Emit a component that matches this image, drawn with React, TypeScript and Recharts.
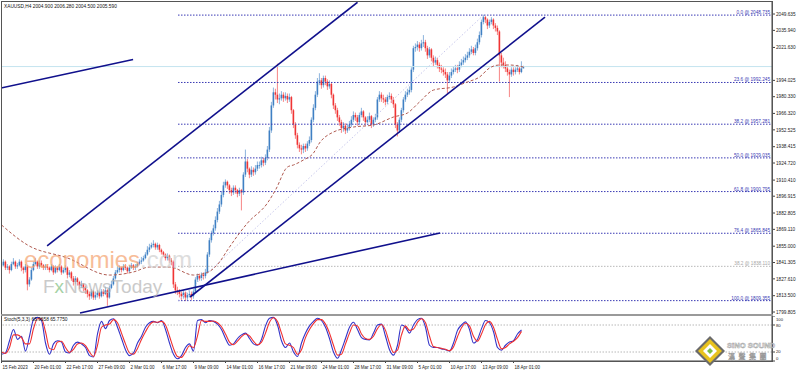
import React from 'react';
import { ComposedChart, Bar, Line, Scatter, XAxis, YAxis, ReferenceLine } from 'recharts';

const FONT = '"Liberation Sans", Arial, sans-serif';

// XAUUSD H4 candles, bar 0 = 15 Feb 2023
const firstOpen = 1838;
const closes = [
  1839, 1842, 1837, 1838, 1835, 1840, 1842, 1838, 1839, 1842,
  1837, 1835, 1838, 1823, 1827, 1835, 1840, 1842, 1838, 1841,
  1839, 1837, 1838, 1837, 1835, 1838, 1833, 1837, 1835, 1838,
  1833, 1835, 1837, 1831, 1833, 1828, 1825, 1828, 1825, 1822,
  1823, 1820, 1818, 1815, 1813, 1817, 1812, 1814, 1816, 1813,
  1817, 1815, 1818, 1812, 1820, 1823, 1828, 1833, 1835, 1837,
  1835, 1838, 1837, 1834, 1837, 1839, 1837, 1838, 1840, 1842,
  1843, 1845, 1848, 1852, 1854, 1856, 1857, 1854, 1856, 1852,
  1850, 1848, 1845, 1847, 1843, 1842, 1823, 1818, 1817, 1815,
  1813, 1816, 1812, 1814, 1815, 1813, 1817, 1827, 1830, 1828,
  1831, 1830, 1833, 1848, 1860, 1866, 1870, 1877, 1884, 1890,
  1898, 1906, 1909, 1906, 1902, 1900, 1904, 1902, 1899, 1902,
  1900, 1915, 1926, 1920, 1915, 1919, 1917, 1920, 1923, 1923,
  1927, 1925, 1929, 1936, 1952, 1973, 1984, 1982, 1978, 1979,
  1982, 1979, 1981, 1978, 1980, 1969, 1957, 1948, 1940, 1937,
  1936, 1939, 1937, 1941, 1944, 1961, 1971, 1982, 1993, 1994,
  1990, 1996, 1993, 1989, 1991, 1982, 1973, 1969, 1963, 1959,
  1954, 1956, 1952, 1954, 1957, 1961, 1965, 1963, 1959, 1965,
  1968, 1963, 1959, 1961, 1964, 1957, 1961, 1963, 1978, 1982,
  1979, 1978, 1976, 1980, 1981, 1978, 1974, 1957, 1952, 1961,
  1969, 1978, 1982, 1984, 1986, 2003, 2021, 2022, 2024, 2021,
  2025, 2026, 2021, 2015, 2020, 2013, 2009, 2011, 2007, 2004,
  2003, 2001, 1999, 1994, 1998, 2001, 2003, 2004, 2003, 2007,
  2009, 2011, 2013, 2015, 2018, 2020, 2017, 2021, 2026, 2032,
  2043, 2047, 2045, 2040, 2043, 2045, 2040, 2038, 2035, 2015,
  2009, 2007, 2004, 2001, 1999, 2003, 2001, 2003, 2004, 2001,
  2004, 2005.59,
];
const highs = [
  1841, 1844, 1843, 1840, 1839, 1842, 1845, 1843, 1841, 1844,
  1843, 1838, 1840, 1839, 1829, 1837, 1842, 1845, 1843, 1843,
  1843, 1840, 1840, 1840, 1838, 1840, 1839, 1839, 1838, 1840,
  1839, 1837, 1839, 1838, 1835, 1834, 1830, 1830, 1829, 1826,
  1826, 1824, 1822, 1819, 1817, 1819, 1818, 1817, 1818, 1817,
  1819, 1819, 1821, 1819, 1822, 1826, 1830, 1835, 1838, 1839,
  1838, 1840, 1840, 1838, 1839, 1841, 1840, 1840, 1842, 1844,
  1846, 1847, 1850, 1855, 1857, 1858, 1860, 1858, 1858, 1857,
  1853, 1851, 1849, 1849, 1848, 1845, 1843, 1825, 1821, 1819,
  1817, 1818, 1817, 1816, 1818, 1817, 1819, 1829, 1832, 1832,
  1833, 1833, 1836, 1850, 1862, 1868, 1873, 1880, 1887, 1893,
  1901, 1909, 1911, 1910, 1907, 1904, 1906, 1906, 1903, 1904,
  1903, 1917, 1936, 1928, 1921, 1922, 1921, 1923, 1926, 1926,
  1930, 1929, 1932, 1939, 1955, 1976, 1988, 1987, 2008, 1983,
  1985, 1984, 1984, 1983, 1983, 1981, 1970, 1959, 1950, 1942,
  1940, 1941, 1941, 1943, 1947, 1963, 1974, 1985, 1996, 2000,
  1996, 1998, 1998, 1995, 1994, 1992, 1983, 1975, 1971, 1965,
  1961, 1959, 1958, 1957, 1960, 1964, 1968, 1967, 1965, 1967,
  1971, 1969, 1964, 1964, 1967, 1965, 1963, 1966, 1980, 1985,
  1984, 1982, 1980, 1982, 1984, 1983, 1980, 1975, 1959, 1963,
  1971, 1980, 1985, 1987, 1989, 2005, 2023, 2025, 2027, 2026,
  2028, 2032, 2028, 2023, 2022, 2021, 2015, 2014, 2013, 2009,
  2007, 2005, 2004, 2001, 2001, 2004, 2006, 2007, 2007, 2010,
  2012, 2014, 2016, 2018, 2021, 2023, 2022, 2024, 2029, 2035,
  2045, 2049, 2048, 2046, 2045, 2047, 2046, 2042, 2040, 2036,
  2017, 2013, 2010, 2006, 2003, 2005, 2005, 2005, 2007, 2006,
  2010, 2006.28,
];
const lows = [
  1836, 1838, 1835, 1835, 1832, 1834, 1839, 1836, 1836, 1838,
  1834, 1832, 1833, 1818, 1821, 1826, 1834, 1839, 1836, 1836,
  1837, 1835, 1835, 1835, 1833, 1834, 1831, 1832, 1833, 1834,
  1831, 1832, 1833, 1828, 1829, 1826, 1822, 1823, 1822, 1819,
  1820, 1817, 1815, 1812, 1810, 1811, 1810, 1810, 1812, 1811,
  1812, 1813, 1814, 1805, 1811, 1819, 1822, 1827, 1832, 1833,
  1833, 1834, 1835, 1832, 1833, 1836, 1835, 1835, 1837, 1839,
  1840, 1842, 1844, 1847, 1850, 1853, 1854, 1852, 1852, 1850,
  1848, 1846, 1843, 1843, 1841, 1839, 1820, 1815, 1814, 1812,
  1810, 1811, 1809, 1810, 1812, 1810, 1811, 1816, 1825, 1826,
  1826, 1827, 1828, 1832, 1846, 1858, 1864, 1868, 1875, 1882,
  1888, 1896, 1904, 1903, 1899, 1897, 1898, 1899, 1896, 1897,
  1885, 1898, 1913, 1917, 1912, 1913, 1914, 1915, 1918, 1920,
  1921, 1922, 1923, 1927, 1934, 1950, 1971, 1978, 1975, 1974,
  1977, 1976, 1977, 1975, 1976, 1966, 1954, 1945, 1937, 1934,
  1932, 1933, 1934, 1935, 1939, 1942, 1959, 1969, 1980, 1990,
  1987, 1988, 1990, 1986, 1987, 1979, 1970, 1966, 1960, 1956,
  1950, 1951, 1949, 1950, 1952, 1955, 1959, 1960, 1956, 1957,
  1963, 1960, 1956, 1957, 1959, 1954, 1955, 1959, 1961, 1976,
  1976, 1975, 1973, 1974, 1978, 1975, 1971, 1954, 1947, 1950,
  1959, 1967, 1976, 1980, 1982, 1984, 2001, 2018, 2019, 2018,
  2019, 2022, 2018, 2012, 2013, 2010, 2006, 2007, 2004, 2001,
  2000, 1998, 1996, 1983, 1992, 1996, 1999, 2001, 2000, 2001,
  2005, 2007, 2009, 2011, 2013, 2016, 2015, 2015, 2019, 2024,
  2030, 2041, 2042, 2037, 2038, 2041, 2037, 2035, 2032, 1993,
  2005, 2004, 2001, 1998, 1980, 1997, 1998, 1999, 2001, 1999,
  2000, 2004.5,
];

// dashed moving average, read at a few bars
const maBars = [0, 13, 33, 54, 66, 74, 84, 96, 103, 109, 113, 123, 133, 137, 143, 146, 151, 156, 159, 166, 176, 186, 196, 203, 209, 216, 226, 233, 239, 244, 249, 254, 261];
const maValues = [1872.8, 1856.0, 1845.1, 1830.8, 1833.4, 1837.5, 1837.5, 1830.8, 1833.0, 1841.7, 1851.8, 1874.4, 1891.2, 1902.1, 1921.4, 1923.1, 1927.3, 1933.1, 1941.5, 1950.7, 1954.9, 1956.6, 1963.3, 1966.7, 1975.9, 1985.9, 1988.5, 1992.7, 1996.8, 2004.4, 2006.9, 2006.9, 2005.2];

// Stoch(5,3,3), one reading every 2 bars
const stochStep = 2;
const stochK = [
  15, 18, 45, 70, 48, 55, 22, 55, 92, 97,
  90, 40, 15, 38, 45, 42, 20, 18, 35, 42,
  38, 30, 12, 9, 60, 88, 72, 90, 94, 75,
  50, 25, 12, 18, 40, 55, 75, 85, 88, 85,
  90, 70, 40, 15, 5, 12, 30, 38, 22, 90,
  92, 85, 90, 88, 82, 70, 50, 35, 38, 50,
  58, 62, 50, 38, 35, 48, 78, 95, 97, 80,
  45, 30, 40, 20, 10, 40, 62, 78, 88, 95,
  90, 75, 50, 20, 6, 25, 50, 75, 86, 70,
  52, 48, 47, 62, 80, 82, 55, 25, 13, 35,
  80, 75, 62, 80, 92, 95, 75, 35, 30, 30,
  27, 25, 22, 40, 68, 80, 87, 70, 40, 48,
  72, 90, 85, 65, 30, 24, 35, 42, 45, 60,
  68.97,
];
const stochD = [
  20, 17, 30, 58, 58, 52, 38, 38, 72, 94,
  94, 65, 28, 25, 42, 44, 30, 19, 26, 38,
  40, 34, 20, 10, 35, 75, 80, 82, 92, 85,
  62, 38, 18, 15, 28, 48, 65, 80, 87, 86,
  88, 80, 55, 28, 10, 8, 20, 34, 30, 56,
  90, 88, 88, 89, 85, 76, 60, 42, 36, 44,
  54, 60, 56, 44, 36, 42, 62, 86, 96, 88,
  62, 38, 35, 30, 15, 25, 52, 70, 83, 92,
  92, 82, 62, 35, 13, 15, 38, 62, 80, 78,
  60, 50, 48, 55, 72, 81, 68, 40, 19, 24,
  58, 78, 68, 71, 86, 94, 85, 55, 32, 30,
  28, 26, 23, 31, 54, 74, 84, 78, 55, 44,
  60, 81, 88, 75, 48, 27, 30, 38, 44, 52,
  65.78,
];

// the 2007.935 tick sits under the black price box, so it is left out
const priceTicks = [2049.635, 2035.94, 2021.63, 1994.025, 1980.33, 1966.32, 1952.525, 1938.415, 1924.72, 1910.41, 1896.915, 1882.805, 1869.11, 1855.0, 1841.305, 1827.61, 1813.5, 1799.805];
const timeTickBars = [0, 16, 32, 48, 64, 80, 96, 112, 128, 144, 160, 176, 192, 208, 224, 240, 256];
const timeLabels = ['15 Feb 2023', '20 Feb 01:00', '22 Feb 17:00', '27 Feb 09:00', '2 Mar 01:00', '6 Mar 17:00', '9 Mar 09:00', '14 Mar 01:00', '16 Mar 17:00', '21 Mar 09:00', '24 Mar 01:00', '28 Mar 17:00', '31 Mar 09:00', '5 Apr 01:00', '10 Apr 17:00', '13 Apr 09:00', '18 Apr 01:00'];

const fibNames = ['0.0', '23.6', '38.2', '50.0', '61.8', '76.4', '100.0'];
const fibLevels = [2048.735, 1992.245, 1957.281, 1929.035, 1900.795, 1865.845, 1809.355];
const fibStartBar = 88.25;
const oldFibName = '38.2';
const oldFibLevel = 1838.11;
const fibDiagonal = [{ x: 88.25, y: 1809.355 }, { x: 241, y: 2048.735 }];

const trendLines = [
  [{ x: -0.25, y: 1987.6 }, { x: 65.8, y: 2011.5 }],
  [{ x: 22.8, y: 1855.2 }, { x: 178, y: 2059.5 }],
  [{ x: 94.25, y: 1812.4 }, { x: 271.75, y: 2047.1 }],
  [{ x: 39.25, y: 1799.0 }, { x: 219.25, y: 1866.1 }],
];
const lastPrice = 2005.59;

const X_DOMAIN: [number, number] = [-0.25, 385.25];
const Y_DOMAIN: [number, number] = [1798.15, 2059.72];

const UP = '#3f80c4';
const DOWN = '#f03434';
const FIB = '#3a3ab4';
const NAVY = '#10108c';

const candles = closes.map((c, i) => ({
  i,
  o: i === 0 ? firstOpen : closes[i - 1],
  c,
  h: highs[i],
  l: lows[i],
  range: [lows[i], highs[i]],
}));
const maRows = maBars.map((i, k) => ({ i, p: maValues[k] }));
const stochRows = stochK.map((k, j) => ({ i: j * stochStep, k, d: stochD[j] }));
const fibLabelRows = fibLevels
  .map((p, k) => ({ i: X_DOMAIN[1], p, text: `${fibNames[k]} @ ${p.toFixed(3)}`, color: FIB }))
  .concat([{ i: X_DOMAIN[1], p: oldFibLevel, text: `${oldFibName} @ ${oldFibLevel.toFixed(3)}`, color: '#a8a8a8' }]);
const priceBoxRows = [{ i: X_DOMAIN[1], p: lastPrice }];

function Candle(props: any) {
  const { x, y, width, height, payload } = props;
  const top = Math.min(y, y + height);
  const h = Math.abs(height);
  const cx = x + width / 2;
  const span = payload.h - payload.l || 1;
  const k = h / span;
  const bodyTop = top + (payload.h - Math.max(payload.o, payload.c)) * k;
  const bodyH = Math.max(Math.abs(payload.o - payload.c) * k, 0.8);
  const col = payload.c >= payload.o ? UP : DOWN;
  return (
    <g>
      <line x1={cx} x2={cx} y1={top} y2={top + h} stroke={col} strokeOpacity={0.6} strokeWidth={1} />
      <rect x={cx - 0.8} y={bodyTop} width={1.6} height={bodyH} fill={col} />
    </g>
  );
}

const PriceTick = ({ x, y, payload }: any) => (
  <text x={x} y={y} dy={1.7} fontSize={4.7} fill="#222" fontFamily={FONT}>
    {Number(payload.value).toFixed(3)}
  </text>
);

const StochTick = ({ x, y, payload }: any) => {
  const v = payload.value;
  const dy = v === 100 ? 4.5 : v === 0 ? -1 : v === 20 ? 0.5 : 1.7;
  return (
    <text x={x} y={y} dy={dy} fontSize={4.2} fill="#222" fontFamily={FONT}>{v}</text>
  );
};

const TimeTick = ({ x, y, payload }: any) => {
  const k = timeTickBars.indexOf(payload.value);
  return (
    <text x={x + 1} y={y + 4} fontSize={4.5} fill="#222" fontFamily={FONT}>{timeLabels[k]}</text>
  );
};

const FibLabel = (props: any) => (
  <text x={props.cx - 2} y={props.cy - 1} textAnchor="end" fontSize={4.7} fill={props.payload.color} fontFamily={FONT}>
    {props.payload.text}
  </text>
);

const PriceBox = (props: any) => (
  <g>
    <rect x={props.cx + 1} y={props.cy - 3.5} width={25} height={7} fill="#000" />
    <text x={props.cx + 13.5} y={props.cy + 1.7} textAnchor="middle" fontSize={4.8} fill="#fff" fontFamily={FONT}>
      {lastPrice.toFixed(3)}
    </text>
  </g>
);

function Overlay() {
  return (
    <svg width={798} height={372} style={{ position: 'absolute', left: 0, top: 0, pointerEvents: 'none' }}>
      <text x={4} y={7.5} fontSize={4.8} fill="#111" fontFamily={FONT}>XAUUSD,H4  2004.900 2006.280 2004.500 2005.590</text>
      <text x={4} y={321} fontSize={4.8} fill="#111" fontFamily={FONT}>Stoch(5,3,3) 68.9658 65.7750</text>
      <g opacity={0.7} fontFamily={FONT}>
        <text x={24} y={268} fontSize={24}>
          <tspan fill="#f5a26e">economies</tspan>
          <tspan fill="#cfcfcf">.com</tspan>
        </text>
        <text x={43} y={293} fontSize={19}>
          <tspan fill="#b4b4b4">F</tspan>
          <tspan fill="#7fbf7f">x</tspan>
          <tspan fill="#b4b4b4">NewsToday</tspan>
        </text>
      </g>
      <g>
        <polygon points="710,336 725,351 710,366 695,351" fill="#6b6b6b" />
        <polygon points="710,339 722,351 710,363 698,351" fill="#e8c21c" />
        <polygon points="710,344 717,351 710,358 703,351" fill="#fff" />
        <polygon points="710,348 713,351 710,354 707,351" fill="#7bbf3f" />
        <text x={727} y={348} fontSize={7.6} fontWeight="bold" fill="#fff" stroke="#9a9a9a" strokeWidth={0.5} fontFamily={FONT}>SiNO SOUND</text>
        <text x={728} y={359} fontSize={7} fill="#fff" stroke="#9a9a9a" strokeWidth={0.45} letterSpacing={3.5} fontFamily='"Noto Sans CJK TC", sans-serif'>漢聲集團</text>
      </g>
    </svg>
  );
}

export default function App() {
  return (
    <div style={{ position: 'absolute', left: 0, top: 0, width: 798, height: 372, background: '#fff', overflow: 'hidden' }}>
      <div style={{ position: 'absolute', left: 0, top: 0 }}>
        <ComposedChart width={798} height={316} data={candles} margin={{ top: 2, right: 0, left: 1, bottom: 2 }}>
          <XAxis dataKey="i" type="number" domain={X_DOMAIN} allowDataOverflow hide />
          <YAxis
            orientation="right"
            width={26}
            type="number"
            domain={Y_DOMAIN}
            allowDataOverflow
            ticks={priceTicks}
            interval={0}
            tick={<PriceTick />}
            tickSize={3}
            tickMargin={1}
            tickLine={{ stroke: '#444' }}
            axisLine={{ stroke: '#444' }}
          />
          <ReferenceLine y={lastPrice} stroke="#c4e4ef" strokeWidth={1} ifOverflow="visible" />
          {fibLevels.map((p, k) => (
            <ReferenceLine
              key={`fib-${k}`}
              segment={[{ x: fibStartBar, y: p }, { x: X_DOMAIN[1], y: p }]}
              stroke={FIB}
              strokeDasharray="1.5 1.5"
              ifOverflow="visible"
            />
          ))}
          <ReferenceLine
            segment={[{ x: fibStartBar, y: oldFibLevel }, { x: X_DOMAIN[1], y: oldFibLevel }]}
            stroke="#b8b8b8"
            strokeDasharray="1.5 1.5"
            ifOverflow="visible"
          />
          <ReferenceLine segment={fibDiagonal} stroke="#c8c8ec" strokeDasharray="1.5 2" ifOverflow="visible" />
          <Line data={maRows} dataKey="p" type="monotone" stroke="#b05a50" strokeWidth={1} strokeDasharray="3 2" dot={false} isAnimationActive={false} />
          <Bar dataKey="range" barSize={2} shape={(p: any) => <Candle {...p} />} isAnimationActive={false} />
          {trendLines.map((seg, k) => (
            <ReferenceLine key={`tl-${k}`} segment={seg} stroke={NAVY} strokeWidth={1.6} ifOverflow="hidden" />
          ))}
          <Scatter data={fibLabelRows} dataKey="p" shape={(p: any) => <FibLabel {...p} />} isAnimationActive={false} />
          <Scatter data={priceBoxRows} dataKey="p" shape={(p: any) => <PriceBox {...p} />} isAnimationActive={false} />
        </ComposedChart>
      </div>
      <div style={{ position: 'absolute', left: 0, top: 316 }}>
        <ComposedChart width={798} height={56} data={stochRows} margin={{ top: 0, right: 0, left: 1, bottom: 0 }}>
          <XAxis
            dataKey="i"
            type="number"
            domain={X_DOMAIN}
            allowDataOverflow
            ticks={timeTickBars}
            interval={0}
            height={11}
            tick={<TimeTick />}
            tickSize={2}
            tickLine={{ stroke: '#444' }}
            axisLine={{ stroke: '#444' }}
          />
          <YAxis
            orientation="right"
            width={26}
            type="number"
            domain={[0, 100]}
            ticks={[0, 20, 80, 100]}
            interval={0}
            tick={<StochTick />}
            tickSize={3}
            tickMargin={1}
            tickLine={{ stroke: '#444' }}
            axisLine={{ stroke: '#444' }}
          />
          <ReferenceLine y={80} stroke="#b8b8b8" strokeDasharray="1.5 1.5" />
          <ReferenceLine y={20} stroke="#b8b8b8" strokeDasharray="1.5 1.5" />
          <Line dataKey="k" type="monotone" stroke="#3434c8" strokeWidth={1.1} dot={false} isAnimationActive={false} />
          <Line dataKey="d" type="monotone" stroke="#f03030" strokeWidth={1.1} dot={false} isAnimationActive={false} />
        </ComposedChart>
      </div>
      <div style={{ position: 'absolute', left: 1, top: 1, width: 772, height: 361, boxSizing: 'border-box', border: '1px solid #555', pointerEvents: 'none' }} />
      <div style={{ position: 'absolute', left: 1, top: 314, width: 772, height: 2, background: '#9a9a9a' }} />
      <Overlay />
    </div>
  );
}
